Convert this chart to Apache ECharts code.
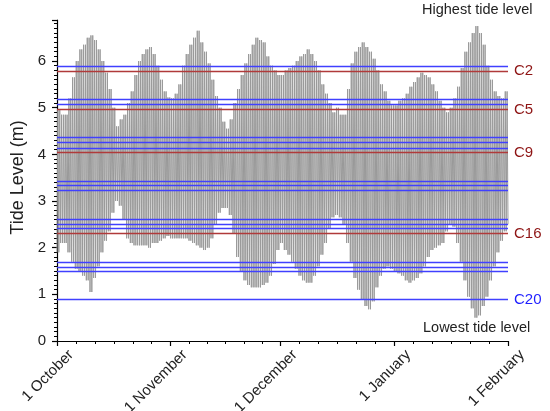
<!DOCTYPE html>
<html>
<head>
<meta charset="utf-8">
<script src="https://cdn.jsdelivr.net/npm/echarts@6/dist/echarts.min.js"></script>
<style>
  html, body { margin: 0; padding: 0; background: #fff; }
  #main { width: 550px; height: 411px; }
</style>
</head>
<body>
<div id="main"></div>
<script>
// daily tide envelope (m), day 0 = 1 October ... day 123 = 1 February
var dailyHigh = [
  4.95, 4.85, 4.85, 5.2, 5.65, 6.0, 6.25, 6.35, 6.5, 6.55, 6.45, 6.25, 6.0, 5.75, 5.4, 5.0, 4.6, 4.75, 4.85, 5.1, 5.35, 5.7, 6.0, 6.15, 6.25, 6.3, 6.15, 5.9, 5.6, 5.35, 5.22,
  5.2, 5.3, 5.5, 5.9, 6.15, 6.35, 6.5, 6.65, 6.4, 6.2, 5.95, 5.6, 5.25, 5.0, 4.7, 4.55, 4.75, 5.1, 5.4, 5.7, 5.95, 6.15, 6.35, 6.5, 6.45, 6.4, 6.1, 5.9, 5.8, 5.7,
  5.7, 5.8, 5.85, 5.9, 6.0, 6.1, 6.15, 6.25, 6.15, 6.0, 5.8, 5.5, 5.3, 5.1, 4.9, 5.0, 4.85, 4.85, 5.4, 5.95, 6.2, 6.3, 6.4, 6.3, 6.2, 6.05, 5.8, 5.5, 5.35, 5.15, 5.05,
  5.05, 5.15, 5.2, 5.3, 5.45, 5.55, 5.65, 5.75, 5.7, 5.65, 5.5, 5.35, 5.15, 5.0, 4.9, 5.0, 5.2, 5.45, 5.85, 6.2, 6.4, 6.6, 6.75, 6.6, 6.35, 5.9, 5.6, 5.35, 5.25, 5.2, 5.35,
  5.55
];
var dailyLow = [
  1.9, 2.1, 2.1, 1.9, 1.7, 1.55, 1.5, 1.4, 1.3, 1.05, 1.35, 1.6, 1.9, 2.15, 2.35, 2.75, 3.0, 2.9, 2.6, 2.2, 2.1, 2.05, 2.05, 2.05, 2.05, 2.0, 2.1, 2.1, 2.15, 2.2, 2.25,
  2.2, 2.2, 2.2, 2.2, 2.2, 2.15, 2.1, 2.05, 2.0, 1.95, 2.0, 2.2, 2.5, 2.75, 2.85, 2.85, 2.7, 2.3, 1.8, 1.5, 1.3, 1.2, 1.15, 1.15, 1.15, 1.2, 1.25, 1.4, 1.65, 1.95,
  2.1, 1.95, 1.85, 1.7, 1.55, 1.4, 1.3, 1.25, 1.25, 1.4, 1.6, 1.85, 2.1, 2.4, 2.65, 2.7, 2.65, 2.5, 2.1, 1.7, 1.35, 1.1, 0.9, 0.75, 0.68, 0.85, 1.15, 1.4, 1.55, 1.6, 1.55,
  1.5, 1.45, 1.4, 1.3, 1.25, 1.3, 1.35, 1.45, 1.6, 1.8, 1.95, 2.0, 2.05, 2.1, 2.35, 2.5, 2.45, 2.1, 1.7, 1.3, 0.95, 0.7, 0.5, 0.55, 0.75, 0.95, 1.3, 1.6, 1.9, 2.15, 2.35,
  2.5
];

// critical levels C1..C20 (m)
var levelNames = ['C1','C2','C3','C4','C5','C6','C7','C8','C9','C10','C11','C12','C13','C14','C15','C16','C17','C18','C19','C20'];
var levelValues = [5.88, 5.78, 5.18, 5.07, 4.96, 4.36, 4.25, 4.14, 4.04, 3.43, 3.33, 3.23, 2.61, 2.51, 2.41, 2.30, 1.69, 1.59, 1.49, 0.885];
var redLevels = ['C2', 'C5', 'C9', 'C16'];
var labelledLevels = ['C2', 'C5', 'C9', 'C16', 'C20'];

var monthStarts = [0, 31, 61, 92, 123];
var monthLabels = ['1 October', '1 November', '1 December', '1 January', '1 February'];

var fontFamily = '"Liberation Sans", Arial, sans-serif';
var blue = '#4040ff';
var red = '#b03a3a';

// semidiurnal: two highs and two lows each day
var tide = [];
for (var d = 0; d < 123; d++) {
  tide.push([d, dailyLow[d]]);
  tide.push([d + 0.25, dailyHigh[d]]);
  tide.push([d + 0.5, dailyLow[d]]);
  tide.push([d + 0.75, dailyHigh[d]]);
}
tide.push([123, dailyLow[123]]);

// minor ticks: each month split into six
var minorTicks = [];
for (var m = 0; m < monthStarts.length - 1; m++) {
  var len = monthStarts[m + 1] - monthStarts[m];
  for (var k = 1; k < 6; k++) minorTicks.push(monthStarts[m] + len * k / 6);
}

var levelLines = levelValues.map(function (v, i) {
  var name = levelNames[i];
  var isRed = redLevels.indexOf(name) >= 0;
  return {
    yAxis: v,
    lineStyle: { color: isRed ? red : blue, width: 1.3, type: 'solid' },
    label: {
      show: labelledLevels.indexOf(name) >= 0,
      formatter: name,
      position: 'end',
      distance: 6,
      color: isRed ? '#8e1414' : '#1f1fff',
      fontSize: 15,
      fontFamily: fontFamily
    }
  };
});

var myChart = echarts.init(document.getElementById('main'));

var option = {
  animation: false,
  grid: { left: 57, right: 42, top: 20, bottom: 70, outerBoundsMode: 'none', containLabel: false },
  xAxis: [
    {
      type: 'value',
      min: 0,
      max: 123,
      splitLine: { show: false },
      axisLine: { lineStyle: { color: '#000', width: 1.2 } },
      axisTick: { customValues: monthStarts, length: 5, lineStyle: { color: '#000', width: 1.2 } },
      axisLabel: {
        customValues: monthStarts,
        formatter: function (v) { return '{m|' + monthLabels[monthStarts.indexOf(v)] + '}'; },
        rotate: 45,
        margin: -4,
        rich: {
          m: { fontSize: 15, color: '#222', fontFamily: fontFamily, padding: [42, 1, 0, 0] }
        }
      }
    },
    {
      type: 'value',
      min: 0,
      max: 123,
      position: 'bottom',
      splitLine: { show: false },
      axisLine: { show: false },
      axisTick: { customValues: minorTicks, length: 3, lineStyle: { color: '#000', width: 1 } },
      axisLabel: { show: false }
    }
  ],
  yAxis: {
    type: 'value',
    min: 0,
    max: 6.88,
    interval: 1,
    name: 'Tide Level (m)',
    nameLocation: 'middle',
    nameGap: 30,
    nameTextStyle: { fontSize: 18, color: '#222', fontFamily: fontFamily, padding: [0, 0, 0, 6] },
    splitLine: { show: false },
    axisLine: { show: true, lineStyle: { color: '#000', width: 1.2 } },
    axisTick: { show: true, length: 5, lineStyle: { color: '#000', width: 1.2 } },
    minorTick: { show: true, splitNumber: 10, length: 3, lineStyle: { color: '#000', width: 1 } },
    axisLabel: { fontSize: 15, color: '#222', margin: 11, showMaxLabel: false, fontFamily: fontFamily }
  },
  graphic: [
    { type: 'text', left: 422, top: 2, style: { text: 'Highest tide level', fontSize: 14.5, fill: '#222', fontFamily: fontFamily } },
    { type: 'text', left: 423, top: 320, style: { text: 'Lowest tide level', fontSize: 14.5, fill: '#222', fontFamily: fontFamily } }
  ],
  series: [
    {
      name: 'Tide level',
      type: 'line',
      data: tide,
      showSymbol: false,
      symbol: 'none',
      lineStyle: { color: '#999999', width: 1.0 },
      markLine: {
        silent: true,
        symbol: ['none', 'none'],
        animation: false,
        data: levelLines
      }
    }
  ]
};

myChart.setOption(option);
</script>
</body>
</html>
